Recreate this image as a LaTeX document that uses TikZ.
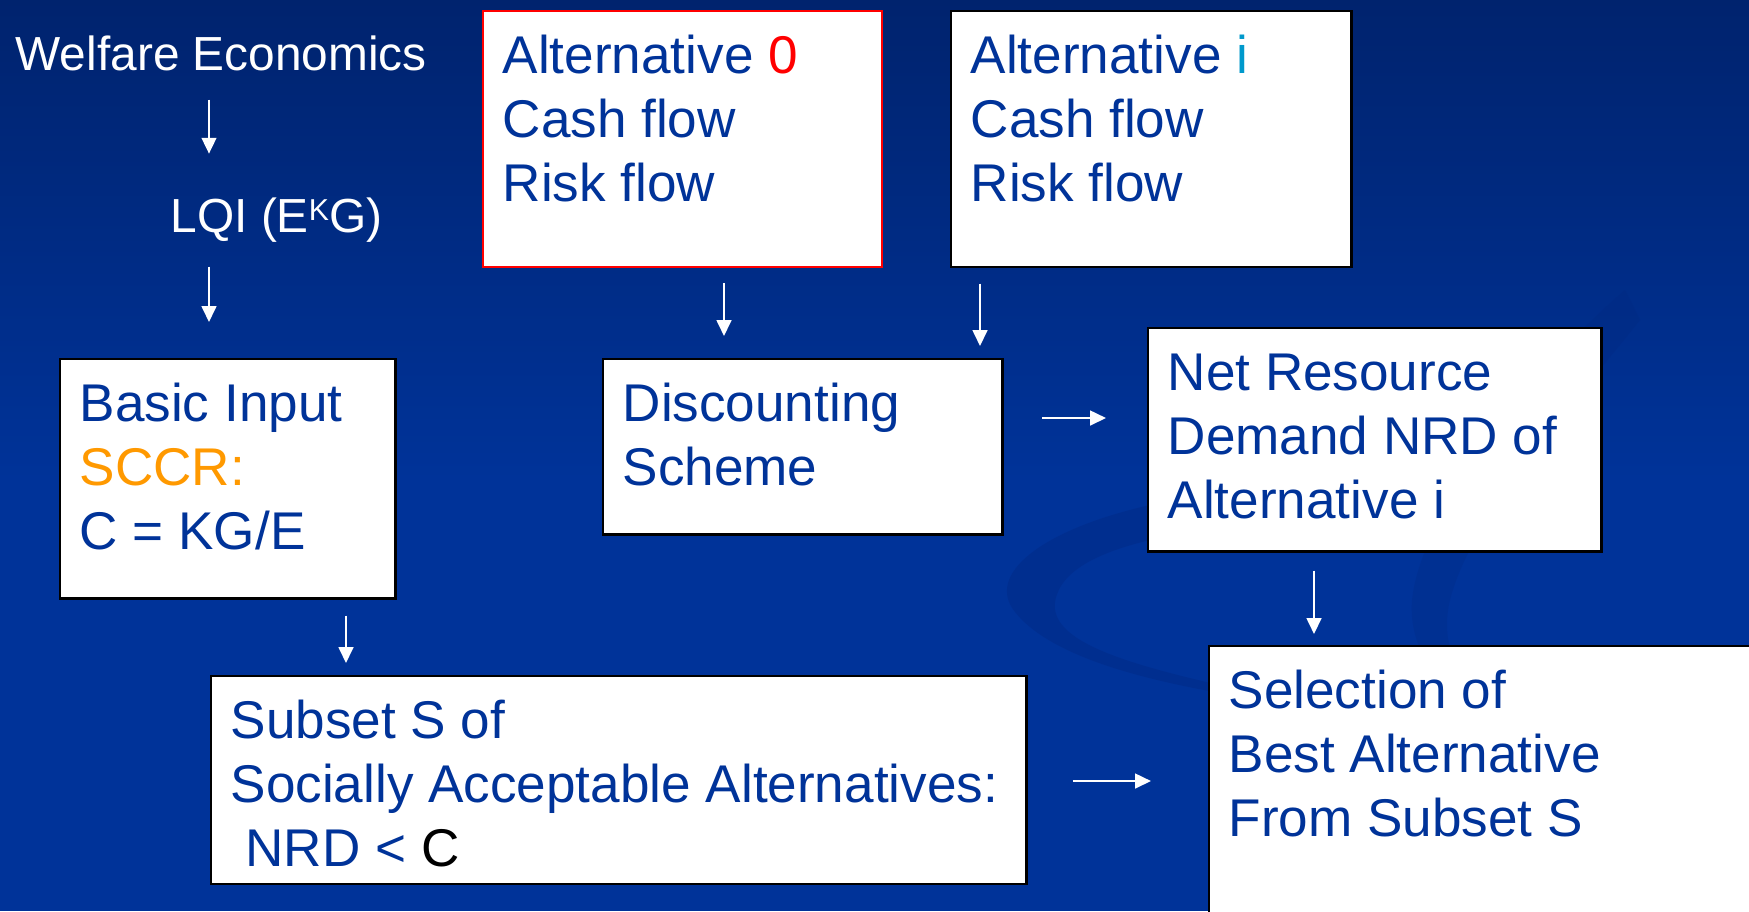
\documentclass[tikz,border=0pt]{standalone}
\usepackage{fontspec}
\setmainfont{Liberation Sans}
\usetikzlibrary{arrows.meta,calc}
\definecolor{bgdark}{HTML}{00236E}
\definecolor{bgblue}{HTML}{003399}
\definecolor{swoosh}{HTML}{00247A}
\definecolor{inkblue}{HTML}{003399}
\definecolor{altcol}{HTML}{0099CC}
\definecolor{sccrcol}{HTML}{FF9900}
\newcommand{\boxfont}{\fontsize{15.1pt}{18.2pt}\selectfont}
\newcommand{\headfont}{\fontsize{13.6pt}{16pt}\selectfont}

\begin{document}
\begin{tikzpicture}[x=0.01cm, y=-0.01cm,
  box/.style={draw=black, line width=0.7pt, fill=white, inner sep=0pt, anchor=north west},
  boxtext/.style={anchor=north west, inner sep=0pt, align=left, font=\boxfont, text=inkblue},
  head/.style={anchor=base west, inner sep=0pt, font=\headfont, text=white},
  flow/.style={draw=white, line width=0.55pt, -{Triangle[length=4.5pt, width=4.2pt]}}]
  \useasboundingbox (0,0) rectangle (1749,911);
  \clip (0,0) rectangle (1749,911);
  % slide background
  \fill[bgblue] (0,0) rectangle (1749,911);
  \shade[top color=bgdark, bottom color=bgblue] (0,0) rectangle (1749,480);
  \fill[swoosh, opacity=.3] (1150,505) .. controls (1040,530) and (985,575) .. (1015,612)
    .. controls (1045,650) and (1120,675) .. (1215,692) -- (1215,684)
    .. controls (1120,662) and (1050,640) .. (1055,602)
    .. controls (1060,570) and (1100,552) .. (1150,540) -- cycle;
  \fill[swoosh, opacity=.2] (1625,290) .. controls (1520,380) and (1420,520) .. (1412,600)
    .. controls (1408,650) and (1440,690) .. (1480,705) -- (1490,700)
    .. controls (1455,680) and (1440,640) .. (1450,600)
    .. controls (1470,520) and (1560,420) .. (1640,320) -- cycle;

  \node[head] (welfare) at (15,70) {Welfare Economics};
  \node[head] (lqi) at (170,232) {LQI (E\raisebox{3.4pt}{\fontsize{8.6pt}{9pt}\selectfont K}G)};

  \node[box, minimum width=3.35cm, minimum height=2.39cm] (basic) at (59,358) {};
  \node[box, draw=red, line width=0.6pt, minimum width=3.99cm, minimum height=2.555cm] (alt0) at (482,10) {};
  \node[box, minimum width=4.00cm, minimum height=2.555cm] (alti) at (950,10) {};
  \node[box, minimum width=3.99cm, minimum height=1.75cm] (disc) at (602,358) {};
  \node[box, minimum width=4.53cm, minimum height=2.23cm] (nrd) at (1147,327) {};
  \node[box, minimum width=6.00cm, minimum height=3.50cm] (sel) at (1208,645) {};
  \node[box, minimum width=8.15cm, minimum height=2.075cm] (subset) at (210,675) {};

  \node[boxtext] (basictxt) at ($(basic.north west)+(20,18)$)
    {\strut Basic Input\\\textcolor{sccrcol}{SCCR:}\\C = KG/E};
  \node[boxtext] (alt0txt) at ($(alt0.north west)+(20,18)$)
    {\strut Alternative \textcolor{red}{0}\\Cash flow\\Risk flow};
  \node[boxtext] (altitxt) at ($(alti.north west)+(20,18)$)
    {\strut Alternative \textcolor{altcol}{i}\\Cash flow\\Risk flow};
  \node[boxtext] (disctxt) at ($(disc.north west)+(20,18)$)
    {\strut Discounting\\Scheme};
  \node[boxtext] (nrdtxt) at ($(nrd.north west)+(20,18)$)
    {\strut Net Resource\\Demand NRD of\\Alternative i};
  \node[boxtext] (seltxt) at ($(sel.north west)+(20,18)$)
    {\strut Selection of\\Best Alternative\\From Subset S};
  \node[boxtext] (subsettxt) at ($(subset.north west)+(20,18)$)
    {\strut Subset S of\\Socially Acceptable Alternatives:\\\ NRD < \textcolor{black}{C}};

  \draw[flow, shorten <=2.85mm, shorten >=4.3mm] (welfare.south -| 209,0) -- (lqi.north -| 209,0);
  \draw[flow, shorten <=2.4mm, shorten >=3.6mm] (lqi.south -| 209,0) -- (basic.north -| 209,0);
  \draw[flow, shorten <=1.55mm, shorten >=2.2mm] (alt0.south -| 724,0) -- (disc.north -| 724,0);
  \draw[flow, shorten <=1.55mm, shorten >=1.2mm] (alti.south -| 980,0) -- (disc.north -| 980,0);
  \draw[flow, shorten <=3.85mm, shorten >=4.1mm] (disc.east |- 0,418) -- (nrd.west |- 0,418);
  \draw[flow, shorten <=1.6mm, shorten >=1.2mm] (basic.south -| 346,0) -- (subset.north -| 346,0);
  \draw[flow, shorten <=1.8mm, shorten >=1.1mm] (nrd.south -| 1314,0) -- (sel.north -| 1314,0);
  \draw[flow, shorten <=4.5mm, shorten >=5.7mm] (subset.east |- 0,781) -- (sel.west |- 0,781);
\end{tikzpicture}
\end{document}
